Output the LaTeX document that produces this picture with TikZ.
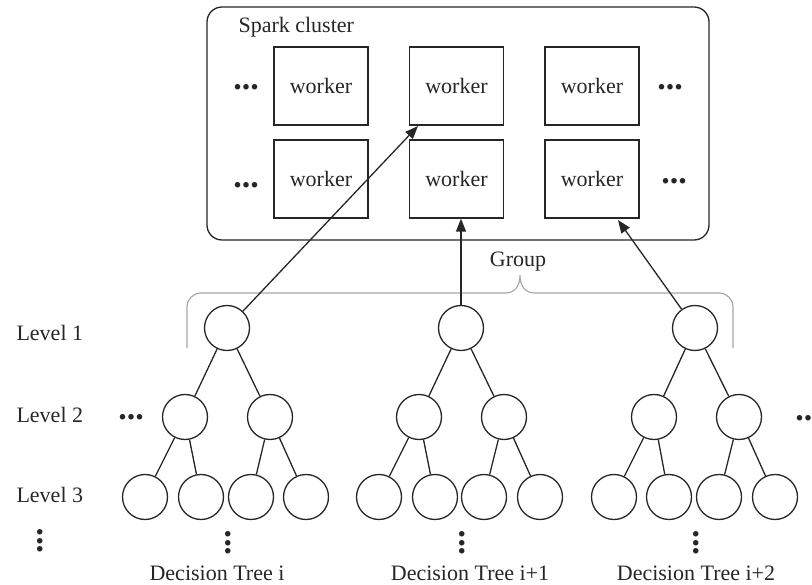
\documentclass[tikz,border=0pt]{standalone}
\usepackage{fontspec}
\setmainfont{Liberation Serif}
\usetikzlibrary{arrows.meta,calc}
\definecolor{ink}{HTML}{262626}
\definecolor{bracegray}{HTML}{A8A8A8}
\begin{document}
\begin{tikzpicture}[x=1pt,y=-1pt,
  every node/.style={font=\fontsize{22}{26}\selectfont, text=ink},
  line/.style={draw=ink, line width=1.3pt},
  cluster/.style={line, rounded corners=15pt},
  workerbox/.style={line, rectangle, minimum width=94pt, minimum height=78pt, inner sep=0pt},
  treenode/.style={line, circle, minimum size=45pt, inner sep=0pt},
  edge/.style={line},
  arrow/.style={line, -{Triangle[length=13pt,width=10pt]}},
  bracepath/.style={draw=bracegray, line width=1.2pt},
  hdots/.style={font=\fontsize{34}{34}\selectfont\bfseries, inner sep=0pt},
  vdots/.style={hdots, rotate=90},
  label/.style={anchor=base west}
]
\useasboundingbox (0,0) rectangle (812,585);

% Spark cluster with its workers
\draw[cluster] (207,7) rectangle (709,240);
\node[anchor=base west] (title) at (235,33) {Spark cluster};

\node[workerbox] (w11) at (321,86)   {worker};
\node[workerbox] (w12) at (456.5,86) {worker};
\node[workerbox] (w13) at (592,86)   {worker};
\node[workerbox] (w21) at (321,179)  {worker};
\node[workerbox] (w22) at (456.5,179){worker};
\node[workerbox] (w23) at (592,179)  {worker};

\node[hdots] (dl1) at (246,87)  {...};
\node[hdots] (dl2) at (246,185) {...};
\node[hdots] (dr1) at (670,87)  {...};
\node[hdots] (dr2) at (674,181) {...};

% Group brace over the tree roots
\draw[bracepath, rounded corners=14pt] (187,348) -- (187,293) -- (505,293);
\draw[bracepath] (505,293) .. controls (515,293) and (520,286) .. (520,275)
                           .. controls (520,286) and (525,293) .. (535,293);
\draw[bracepath, rounded corners=14pt] (535,293) -- (733,293) -- (733,348);
\node (group) at (518,262) {Group};

% Level labels
\node[label] (lv1) at (13,341) {Level 1};
\node[label] (lv2) at (13,423) {Level 2};
\node[label] (lv3) at (13,502) {Level 3};
\node[vdots] (lvd) at (40,541) {...};

% Decision tree i
\node[treenode] (a)   at (227,328) {};
\node[treenode] (a1)  at (185,417) {};
\node[treenode] (a2)  at (270,417) {};
\node[treenode] (a11) at (145,497) {};
\node[treenode] (a12) at (201,497) {};
\node[treenode] (a21) at (251,497) {};
\node[treenode] (a22) at (306,497) {};

% Decision tree i+1
\node[treenode] (b)   at (461,328) {};
\node[treenode] (b1)  at (419,417) {};
\node[treenode] (b2)  at (504,417) {};
\node[treenode] (b11) at (379,497) {};
\node[treenode] (b12) at (435,497) {};
\node[treenode] (b21) at (484,497) {};
\node[treenode] (b22) at (540,497) {};

% Decision tree i+2
\node[treenode] (c)   at (695,328) {};
\node[treenode] (c1)  at (654,417) {};
\node[treenode] (c2)  at (739,417) {};
\node[treenode] (c11) at (614,497) {};
\node[treenode] (c12) at (669,497) {};
\node[treenode] (c21) at (719,497) {};
\node[treenode] (c22) at (775,497) {};

\foreach \t in {a,b,c}{
  \draw[edge] (\t) -- (\t1);
  \draw[edge] (\t) -- (\t2);
  \draw[edge] (\t1) -- (\t11);
  \draw[edge] (\t1) -- (\t12);
  \draw[edge] (\t2) -- (\t21);
  \draw[edge] (\t2) -- (\t22);
}

\node[hdots] (tdl) at (131,417) {...};
\node[hdots] (tdr) at (808,418) {...};

\node[vdots] (ad) at (228,543) {...};
\node[vdots] (bd) at (462,543) {...};
\node[vdots] (cd) at (696,543) {...};

\node[anchor=base] (an) at (217,580) {Decision Tree i};
\node[anchor=base] (bn) at (470,580) {Decision Tree i+1};
\node[anchor=base] (cn) at (696,580) {Decision Tree i+2};

% Assignment of tree roots to workers
\coordinate (ta) at (418,126);
\coordinate (tc) at (618,220);
\draw[arrow] (a) -- (ta);
\draw[arrow] (b.north) -- (b.north |- w22.south);
\draw[arrow] (c) -- (tc);
\end{tikzpicture}
\end{document}
